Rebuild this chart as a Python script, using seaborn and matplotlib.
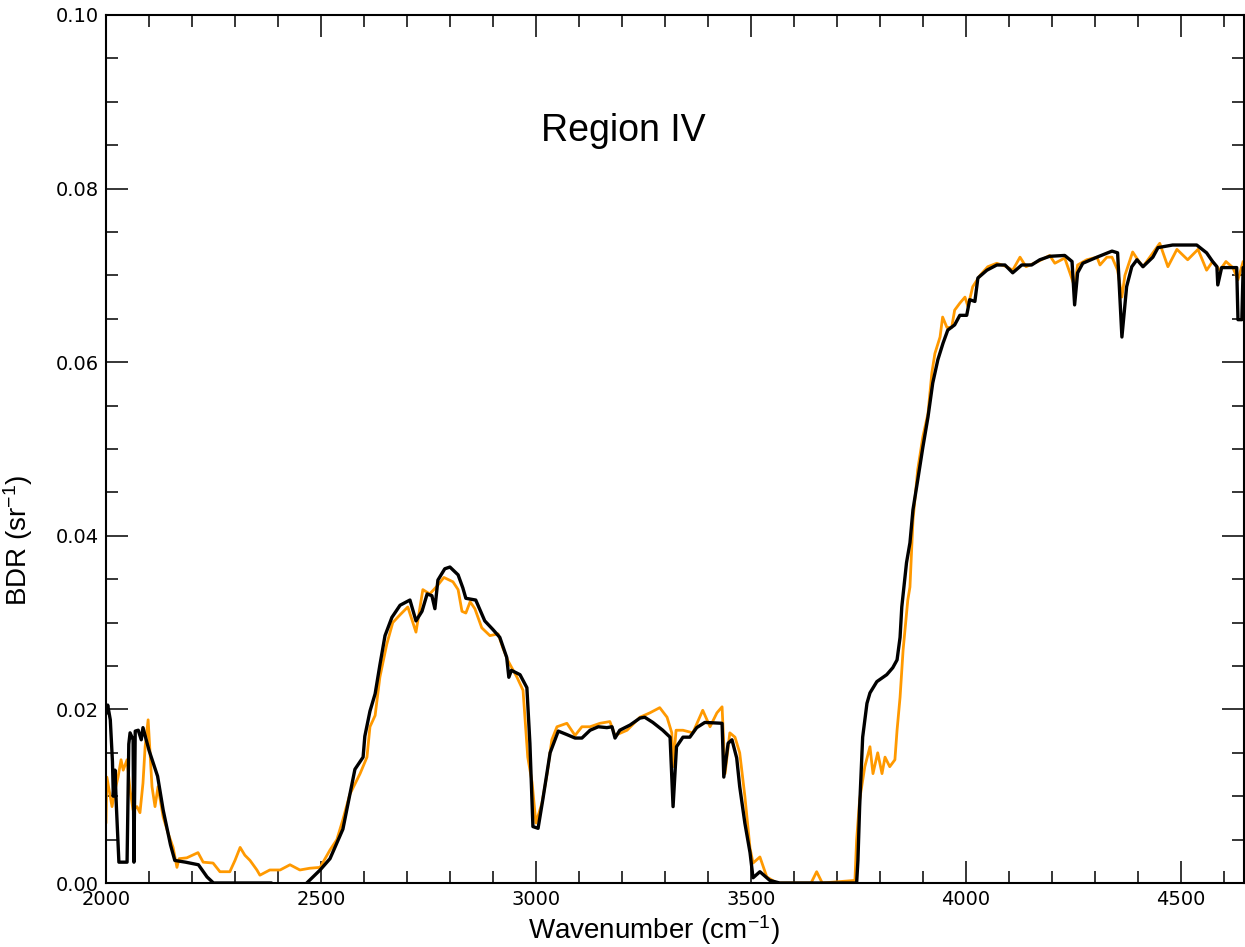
import numpy as np
import matplotlib
matplotlib.use("Agg")
import matplotlib.pyplot as plt
from matplotlib.ticker import MultipleLocator
import seaborn as sns

wn_obs = [2000, 2002, 2014, 2021, 2028, 2035, 2040, 2049, 2056, 2063, 2072, 2079, 2086, 2091,
          2098, 2107, 2114, 2121, 2133, 2144, 2156, 2165, 2170, 2188, 2214, 2226, 2249, 2265,
          2288, 2300, 2312, 2323, 2335, 2351, 2358, 2381, 2405, 2428, 2451, 2474, 2498, 2521,
          2537, 2551, 2567, 2591, 2607, 2614, 2626, 2637, 2653, 2667, 2684, 2702, 2721, 2737,
          2753, 2770, 2786, 2807, 2819, 2828, 2837, 2847, 2858, 2874, 2893, 2912, 2923, 2935,
          2956, 2970, 2981, 2991, 3000, 3014, 3026, 3037, 3049, 3072, 3091, 3107, 3126, 3149,
          3172, 3184, 3212, 3242, 3265, 3288, 3305, 3316, 3319, 3326, 3342, 3365, 3388, 3405,
          3421, 3433, 3440, 3451, 3463, 3474, 3486, 3498, 3505, 3521, 3537, 3560, 3640, 3653,
          3666, 3742, 3746, 3753, 3765, 3777, 3784, 3795, 3805, 3812, 3823, 3835, 3840, 3847,
          3854, 3865, 3870, 3877, 3888, 3900, 3912, 3921, 3928, 3940, 3946, 3956, 3967, 3974,
          3986, 3998, 4005, 4016, 4033, 4051, 4072, 4095, 4109, 4126, 4140, 4172, 4195, 4207,
          4230, 4242, 4253, 4260, 4281, 4305, 4312, 4328, 4340, 4353, 4363, 4370, 4388, 4400,
          4412, 4428, 4451, 4470, 4491, 4516, 4540, 4560, 4574, 4591, 4605, 4621, 4633, 4645,
          4650]
bdr_obs = [0.0069, 0.0122, 0.0088, 0.0107, 0.0122, 0.0142, 0.0130, 0.0142, 0.0107, 0.0084,
           0.0088, 0.0081, 0.0115, 0.0157, 0.0188, 0.0111, 0.0088, 0.0111, 0.0076, 0.0058,
           0.0041, 0.0018, 0.0028, 0.0029, 0.0035, 0.0024, 0.0023, 0.0013, 0.0013, 0.0026,
           0.0041, 0.0032, 0.0026, 0.0015, 0.0009, 0.0015, 0.0015, 0.0021, 0.0015, 0.0017,
           0.0018, 0.0038, 0.0050, 0.0073, 0.0102, 0.0126, 0.0145, 0.0180, 0.0193, 0.0237,
           0.0275, 0.0300, 0.0309, 0.0318, 0.0289, 0.0338, 0.0333, 0.0342, 0.0352, 0.0347,
           0.0338, 0.0313, 0.0311, 0.0324, 0.0316, 0.0294, 0.0285, 0.0287, 0.0271, 0.0256,
           0.0237, 0.0222, 0.0145, 0.0116, 0.0069, 0.0092, 0.0126, 0.0165, 0.0180, 0.0184,
           0.0170, 0.0180, 0.0180, 0.0184, 0.0186, 0.0170, 0.0176, 0.0191, 0.0196, 0.0202,
           0.0191, 0.0173, 0.0134, 0.0176, 0.0176, 0.0173, 0.0199, 0.0180, 0.0196, 0.0203,
           0.0126, 0.0173, 0.0168, 0.0150, 0.0100, 0.0040, 0.0023, 0.0030, 0.0007, 0.0000,
           0.0000, 0.0013, 0.0000, 0.0003, 0.0050, 0.0096, 0.0134, 0.0157, 0.0126, 0.0150,
           0.0126, 0.0145, 0.0134, 0.0142, 0.0176, 0.0214, 0.0268, 0.0326, 0.0341, 0.0418,
           0.0476, 0.0514, 0.0541, 0.0588, 0.0610, 0.0629, 0.0652, 0.0640, 0.0640, 0.0660,
           0.0668, 0.0675, 0.0664, 0.0687, 0.0700, 0.0710, 0.0714, 0.0710, 0.0706, 0.0721,
           0.0710, 0.0717, 0.0723, 0.0714, 0.0720, 0.0703, 0.0687, 0.0712, 0.0718, 0.0721,
           0.0712, 0.0721, 0.0721, 0.0706, 0.0675, 0.0700, 0.0727, 0.0718, 0.0710, 0.0721,
           0.0737, 0.0710, 0.0730, 0.0718, 0.0730, 0.0706, 0.0716, 0.0706, 0.0716, 0.0709,
           0.0695, 0.0716, 0.0712]

# Modelled BDR (black)
wn_mod = [2000, 2004, 2010, 2015, 2017, 2021, 2024, 2030, 2049, 2053, 2056, 2063, 2065, 2068,
          2075, 2082, 2086, 2100, 2120, 2133, 2150, 2160, 2185, 2215, 2235, 2250, 2385, 2395,
          2455, 2467, 2498, 2521, 2551, 2579, 2598, 2602, 2614, 2626, 2637, 2649, 2665, 2684,
          2707, 2721, 2735, 2747, 2758, 2765, 2772, 2788, 2800, 2819, 2830, 2837, 2860, 2881,
          2900, 2916, 2932, 2937, 2943, 2963, 2979, 2986, 2993, 3005, 3016, 3033, 3052, 3072,
          3091, 3107, 3126, 3145, 3165, 3177, 3184, 3195, 3219, 3242, 3253, 3272, 3295, 3312,
          3319, 3327, 3342, 3358, 3374, 3393, 3433, 3437, 3447, 3456, 3467, 3474, 3486, 3498,
          3505, 3521, 3544, 3567, 3746, 3749, 3753, 3760, 3770, 3777, 3793, 3816, 3830, 3840,
          3847, 3851, 3862, 3870, 3877, 3888, 3900, 3912, 3923, 3935, 3947, 3958, 3974, 3986,
          4002, 4009, 4021, 4028, 4049, 4072, 4091, 4109, 4130, 4153, 4172, 4195, 4230, 4247,
          4253, 4260, 4272, 4305, 4330, 4340, 4353, 4363, 4374, 4386, 4398, 4412, 4435, 4447,
          4481, 4537, 4560, 4574, 4584, 4586, 4595, 4619, 4630, 4633, 4642, 4645, 4650]
bdr_mod = [0.0195, 0.0205, 0.0188, 0.0140, 0.0100, 0.0130, 0.0090, 0.0024, 0.0024, 0.0160,
           0.0173, 0.0165, 0.0024, 0.0175, 0.0176, 0.0165, 0.0179, 0.0153, 0.0123, 0.0084,
           0.0044, 0.0026, 0.0024, 0.0021, 0.0007, 0.0000, 0.0000, -0.0020, -0.0020, 0.0000,
           0.0015, 0.0028, 0.0062, 0.0131, 0.0145, 0.0169, 0.0198, 0.0218, 0.0251, 0.0285,
           0.0306, 0.0320, 0.0326, 0.0302, 0.0313, 0.0333, 0.0331, 0.0316, 0.0349, 0.0362,
           0.0364, 0.0355, 0.0340, 0.0328, 0.0326, 0.0302, 0.0292, 0.0283, 0.0260, 0.0237,
           0.0245, 0.0240, 0.0225, 0.0161, 0.0065, 0.0063, 0.0096, 0.0150, 0.0175, 0.0171,
           0.0167, 0.0167, 0.0176, 0.0180, 0.0179, 0.0180, 0.0167, 0.0176, 0.0182, 0.0190,
           0.0191, 0.0185, 0.0176, 0.0168, 0.0088, 0.0157, 0.0168, 0.0168, 0.0179, 0.0185,
           0.0184, 0.0122, 0.0161, 0.0165, 0.0144, 0.0111, 0.0069, 0.0035, 0.0006, 0.0013,
           0.0003, 0.0000, 0.0000, 0.0026, 0.0088, 0.0168, 0.0207, 0.0219, 0.0232, 0.0240,
           0.0248, 0.0257, 0.0283, 0.0318, 0.0369, 0.0392, 0.0430, 0.0464, 0.0502, 0.0537,
           0.0576, 0.0603, 0.0622, 0.0637, 0.0643, 0.0654, 0.0654, 0.0672, 0.0670, 0.0697,
           0.0706, 0.0712, 0.0712, 0.0703, 0.0712, 0.0712, 0.0718, 0.0722, 0.0723, 0.0716,
           0.0666, 0.0703, 0.0714, 0.0721, 0.0726, 0.0728, 0.0726, 0.0629, 0.0687, 0.0710,
           0.0718, 0.0710, 0.0721, 0.0732, 0.0735, 0.0735, 0.0726, 0.0716, 0.0710, 0.0689,
           0.0709, 0.0709, 0.0709, 0.0649, 0.0649, 0.0709, 0.0709]

sns.set_style("ticks")
plt.rcParams["font.family"] = ["Liberation Sans", "DejaVu Sans"]
plt.rcParams["mathtext.default"] = "regular"
plt.rcParams["text.color"] = "black"
plt.rcParams["axes.labelcolor"] = "black"
plt.rcParams["xtick.color"] = "black"
plt.rcParams["ytick.color"] = "black"

fig = plt.figure(figsize=(12.45, 9.47), dpi=100)
ax = fig.add_axes([106 / 1245, 1 - 883 / 947, 1138 / 1245, 868 / 947])

sns.lineplot(x=wn_obs, y=bdr_obs, color="#FF9900", linewidth=2.0,
             estimator=None, ax=ax)
sns.lineplot(x=wn_mod, y=bdr_mod, color="black", linewidth=2.4,
             estimator=None, ax=ax)

ax.set_xlim(2000, 4647)
ax.set_ylim(0, 0.10)

ax.xaxis.set_major_locator(MultipleLocator(500))
ax.xaxis.set_minor_locator(MultipleLocator(100))
ax.yaxis.set_major_locator(MultipleLocator(0.02))
ax.yaxis.set_minor_locator(MultipleLocator(0.005))
ax.yaxis.set_major_formatter(matplotlib.ticker.FormatStrFormatter("%.2f"))

ax.tick_params(which="both", direction="in", top=True, right=True, width=1.1,
               color="black", labelcolor="black")
ax.tick_params(which="major", length=16, labelsize=14, pad=5)
ax.tick_params(which="minor", length=8.5)
for lab in ax.get_xticklabels() + ax.get_yticklabels():
    lab.set_family("DejaVu Sans")
for sp in ax.spines.values():
    sp.set_linewidth(1.5)
    sp.set_color("black")

ax.set_xlabel(r"Wavenumber (cm$^{-1}$)", fontsize=20)
ax.set_ylabel(r"BDR (sr$^{-1}$)", fontsize=20)
ax.xaxis.set_label_coords(0.4815, -0.035)
ax.yaxis.set_label_coords(-0.062, 0.395)

ax.text(0.455, 0.855, "Region IV", transform=ax.transAxes, fontsize=27,
        ha="center", va="baseline")

fig.savefig("out.png", dpi=100)
